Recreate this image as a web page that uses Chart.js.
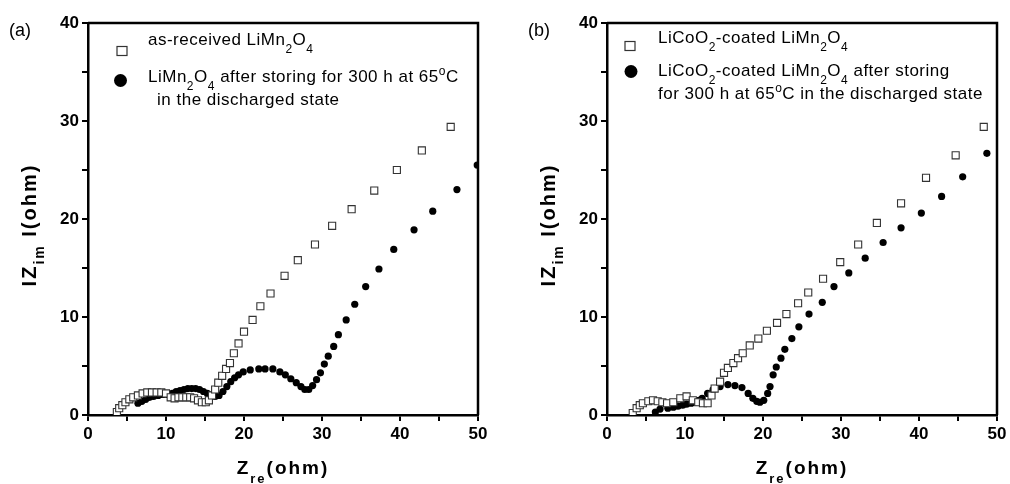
<!DOCTYPE html>
<html lang="en">
<head>
<meta charset="UTF-8">
<title>Impedance spectra of LiMn2O4</title>
<style>
  body { margin: 0; background: #fff; }
  canvas { position: absolute; top: 0; }
  #panelA { left: 0; width: 519px; height: 484px; }
  #panelB { left: 519px; width: 491px; height: 484px; }
</style>
</head>
<body>
<canvas id="panelA" width="519" height="484"></canvas>
<canvas id="panelB" width="491" height="484"></canvas>
<script src="https://cdn.jsdelivr.net/npm/chart.js"></script>
<script>
// (a) as-received LiMn2O4
var asRecX = [3.7,4.0,4.4,4.8,5.3,5.8,6.4,7.0,7.6,8.2,8.8,9.4,10.0,10.6,11.1,11.6,12.1,12.6,13.1,13.6,14.1,14.6,15.1,15.5,15.9,16.3,16.7,17.2,17.7,18.2,18.7,19.3,20.0,21.1,22.1,23.4,25.2,26.9,29.1,31.3,33.8,36.7,39.6,42.8,46.5];
var asRecY = [0.3,0.7,1.0,1.3,1.6,1.8,2.0,2.2,2.3,2.3,2.3,2.3,2.2,1.8,1.7,1.8,1.8,1.8,1.8,1.7,1.5,1.3,1.3,1.5,2.0,2.6,3.3,4.0,4.7,5.3,6.3,7.3,8.5,9.7,11.1,12.4,14.2,15.8,17.4,19.3,21.0,22.9,25.0,27.0,29.4];

// (a) LiMn2O4 after storing 300 h at 65 C
var storedX = [6.4,6.9,7.4,7.9,8.4,9.0,9.6,10.2,10.8,11.3,11.8,12.3,12.8,13.3,13.8,14.3,14.8,15.3,15.8,16.3,16.8,17.3,17.8,18.3,18.8,19.3,19.9,20.8,21.9,22.7,23.7,24.6,25.3,26.0,26.7,27.3,27.8,28.3,28.8,29.3,29.8,30.3,30.8,31.5,32.1,33.1,34.2,35.6,37.3,39.2,41.8,44.2,47.3,49.9];
var storedY = [1.2,1.4,1.6,1.8,1.9,2.0,2.1,2.1,2.2,2.4,2.5,2.6,2.7,2.7,2.7,2.6,2.4,2.2,2.0,1.9,2.0,2.4,2.9,3.4,3.8,4.1,4.4,4.6,4.7,4.7,4.7,4.4,4.1,3.7,3.3,2.9,2.6,2.6,3.0,3.6,4.3,5.2,6.0,7.0,8.2,9.7,11.3,13.1,14.9,16.9,18.9,20.8,23.0,25.5];

// (b) LiCoO2-coated LiMn2O4
var coatedX = [3.3,3.8,4.2,4.6,5.3,5.9,6.5,7.1,7.7,8.5,9.4,10.2,11.0,11.7,12.3,12.9,13.4,13.8,14.5,15.0,15.5,16.2,16.8,17.4,18.3,19.4,20.5,21.8,23.0,24.5,25.8,27.7,29.9,32.2,34.6,37.7,40.9,44.7,48.3];
var coatedY = [0.2,0.7,1.0,1.2,1.4,1.5,1.4,1.3,1.2,1.3,1.7,1.9,1.5,1.3,1.2,1.2,2.0,2.7,3.4,4.3,4.8,5.3,5.8,6.3,7.1,7.8,8.6,9.4,10.3,11.4,12.5,13.9,15.6,17.4,19.6,21.6,24.2,26.5,29.4];

// (b) coated, after storing
var coatedStoredX = [6.2,6.8,7.8,8.5,9.1,9.7,10.2,10.8,11.3,11.8,12.2,12.9,13.6,14.5,15.5,16.4,17.3,18.1,18.7,19.2,19.6,20.1,20.6,20.9,21.3,21.7,22.3,22.8,23.7,24.6,25.9,27.6,29.1,31.0,33.1,35.4,37.7,40.3,42.9,45.6,48.7];
var coatedStoredY = [0.3,0.6,0.7,0.8,0.9,1.0,1.1,1.2,1.3,1.5,1.7,2.2,2.6,2.9,3.1,3.0,2.8,2.2,1.7,1.4,1.3,1.5,2.2,2.9,4.1,4.9,5.8,6.7,7.8,9.0,10.3,11.5,13.1,14.5,16.0,17.6,19.1,20.6,22.3,24.3,26.7];

var xMin = 0, xMax = 50, yMin = 0, yMax = 40;
var labelStep = 10, tickStep = 5;

var FONT = "'Liberation Sans', Arial, sans-serif";

function zip(xs, ys) {
  return xs.map(function (x, i) { return { x: x, y: ys[i] }; });
}

// draw text made of pieces: [text, ''|'sub'|'sup']
function drawRich(ctx, parts, x, y, size, weight, align, subDrop) {
  var small = Math.round(size * 0.68);
  var w = 0;
  parts.forEach(function (p) {
    ctx.font = weight + ' ' + (p[1] ? small : size) + 'px ' + FONT;
    p.w = ctx.measureText(p[0]).width;
    w += p.w;
  });
  var cx = align === 'center' ? x - w / 2 : x;
  ctx.textAlign = 'left';
  ctx.textBaseline = 'alphabetic';
  parts.forEach(function (p) {
    ctx.font = weight + ' ' + (p[1] ? small : size) + 'px ' + FONT;
    var dy = p[1] === 'sub' ? subDrop : (p[1] === 'sup' ? -size * 0.42 : 0);
    ctx.fillText(p[0], cx, y + dy);
    cx += p.w;
  });
}

var deco = {
  id: 'deco',
  afterDraw: function (chart, args, opts) {
    var ctx = chart.ctx, a = chart.chartArea;
    ctx.save();
    ctx.strokeStyle = '#000';
    ctx.lineWidth = 2.5;
    ctx.beginPath();
    ctx.moveTo(a.left, a.top);
    ctx.lineTo(a.right, a.top);
    ctx.lineTo(a.right, a.bottom);
    ctx.stroke();
    ctx.fillStyle = '#000';

    // panel tag
    ctx.font = '18px ' + FONT;
    ctx.textAlign = 'left';
    ctx.fillText(opts.tag, 9, 36);

    // axis titles
    ctx.letterSpacing = '2px';
    drawRich(ctx, [['Z', ''], ['re', 'sub'], ['(ohm)', '']], (a.left + a.right) / 2, 474, 19, 'bold', 'center', 9);
    ctx.save();
    ctx.translate(36, 225);
    ctx.rotate(-Math.PI / 2);
    drawRich(ctx, [['IZ', ''], ['im', 'sub'], [' I(ohm)', '']], 0, 0, 20, 'bold', 'center', 8);
    ctx.restore();

    // legend
    ctx.letterSpacing = '0.5px';
    opts.legend.forEach(function (item) {
      if (item.marker === 'square') {
        ctx.lineWidth = 1.2;
        ctx.strokeStyle = '#333';
        ctx.strokeRect(item.mx - 5, item.my - 4.5, 10, 9);
      } else {
        ctx.beginPath();
        ctx.arc(item.mx, item.my, 6.5, 0, Math.PI * 2);
        ctx.fill();
      }
      item.lines.forEach(function (ln) {
        drawRich(ctx, ln.parts, ln.x, ln.y, 17, 'normal', 'left', 8);
      });
    });
    ctx.letterSpacing = '0px';
    ctx.restore();
  }
};

function makePanel(id, tag, openPts, filledPts, legend, rightPad) {
  var axisCommon = {
    type: 'linear',
    border: { display: true, color: '#000', width: 2.5 },
    grid: { display: true, drawOnChartArea: false, drawTicks: true, tickLength: 6, color: '#000', lineWidth: 2 },
    ticks: {
      stepSize: tickStep,
      color: '#000',
      font: { family: FONT, size: 17, weight: 'bold' },
      padding: 3,
      callback: function (v) { return v % labelStep === 0 ? v : ''; }
    }
  };
  return new Chart(document.getElementById(id), {
    type: 'scatter',
    data: {
      datasets: [{
        label: 'open',
        data: openPts,
        pointStyle: 'rect',
        pointRadius: 5,
        backgroundColor: '#fff',
        borderColor: '#333',
        borderWidth: 1.1
      }, {
        label: 'filled',
        data: filledPts,
        pointStyle: 'circle',
        pointRadius: 3.6,
        backgroundColor: '#000',
        borderColor: '#000',
        borderWidth: 0
      }]
    },
    options: {
      responsive: false,
      animation: false,
      layout: { padding: { top: 23, right: rightPad, left: 0, bottom: 0 } },
      plugins: {
        legend: { display: false },
        tooltip: { enabled: false },
        deco: { tag: tag, legend: legend }
      },
      scales: {
        x: Object.assign({}, axisCommon, {
          min: xMin, max: xMax,
          afterFit: function (s) { s.height = 69; }
        }),
        y: Object.assign({}, axisCommon, {
          min: yMin, max: yMax,
          afterFit: function (s) { s.width = 88; }
        })
      }
    },
    plugins: [deco]
  });
}

makePanel('panelA', '(a)', zip(asRecX, asRecY), zip(storedX, storedY), [
  { marker: 'square', mx: 122, my: 51, lines: [
    { x: 148, y: 45, parts: [['as-received LiMn', ''], ['2', 'sub'], ['O', ''], ['4', 'sub']] }
  ] },
  { marker: 'circle', mx: 120.5, my: 80.5, lines: [
    { x: 148, y: 82, parts: [['LiMn', ''], ['2', 'sub'], ['O', ''], ['4', 'sub'], [' after storing for 300 h at 65', ''], ['o', 'sup'], ['C', '']] },
    { x: 157, y: 105, parts: [['in the discharged state', '']] }
  ] }
], 41);

makePanel('panelB', '(b)', zip(coatedX, coatedY), zip(coatedStoredX, coatedStoredY), [
  { marker: 'square', mx: 111, my: 46, lines: [
    { x: 139, y: 43, parts: [['LiCoO', ''], ['2', 'sub'], ['-coated LiMn', ''], ['2', 'sub'], ['O', ''], ['4', 'sub']] }
  ] },
  { marker: 'circle', mx: 112, my: 71.5, lines: [
    { x: 139, y: 76, parts: [['LiCoO', ''], ['2', 'sub'], ['-coated LiMn', ''], ['2', 'sub'], ['O', ''], ['4', 'sub'], [' after storing', '']] },
    { x: 139, y: 99, parts: [['for 300 h at 65', ''], ['o', 'sup'], ['C in the discharged state', '']] }
  ] }
], 13);
</script>
</body>
</html>
